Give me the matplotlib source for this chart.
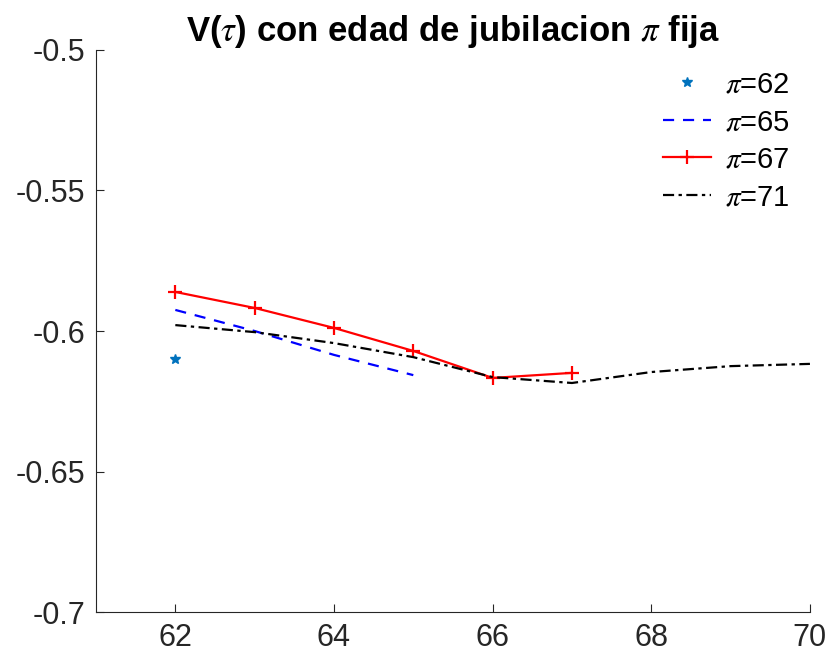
import matplotlib
matplotlib.use("Agg")
import matplotlib.pyplot as plt

# values
x62 = [62]
v62 = [-0.6100]

x65 = [62, 63, 64, 65]
v65 = [-0.5925, -0.6000, -0.6085, -0.6157]

x67 = [62, 63, 64, 65, 66, 67]
v67 = [-0.5861, -0.5918, -0.5989, -0.6071, -0.6167, -0.6149]

x71 = [62, 63, 64, 65, 66, 67, 68, 69, 70]
v71 = [-0.5979, -0.6004, -0.6043, -0.6093, -0.6164, -0.6185, -0.6146, -0.6125, -0.6117]

labels = [r"$\pi$=62", r"$\pi$=65", r"$\pi$=67", r"$\pi$=71"]
xticks = [62, 64, 66, 68, 70]
yticks = [-0.7, -0.65, -0.6, -0.55, -0.5]

plt.rcParams["font.family"] = ["Liberation Sans", "DejaVu Sans"]
plt.rcParams["mathtext.fontset"] = "stix"

fig = plt.figure(figsize=(8.29, 6.63), dpi=100)
ax = fig.add_axes([0.1158, 0.0769, 0.8612, 0.8477])

ax.plot(x62, v62, linestyle="none", marker="*", color="#0072BD", markersize=7, label=labels[0])
ax.plot(x65, v65, linestyle=(0, (5, 4)), color="blue", lw=1.6, label=labels[1])
ax.plot(x67, v67, "-", marker="+", color="red", lw=1.6, markersize=10, mew=1.6, label=labels[2])
ax.plot(x71, v71, linestyle=(0, (5, 2, 1.5, 2)), color="black", lw=1.6, label=labels[3])

ax.set_xlim(61, 70)
ax.set_ylim(-0.7, -0.5)
ax.set_xticks(xticks)
ax.set_yticks(yticks)
ax.set_yticklabels(["-0.7", "-0.65", "-0.6", "-0.55", "-0.5"])

for s in ["top", "right"]:
    ax.spines[s].set_visible(False)
for s in ["left", "bottom"]:
    ax.spines[s].set_color("#262626")
    ax.spines[s].set_linewidth(0.8)
ax.tick_params(direction="in", length=6, width=0.8, color="#262626",
               labelsize=22, labelcolor="#262626", pad=8)

ax.set_title(r"V($\tau$) con edad de jubilacion $\pi$ fija", fontsize=25,
             fontweight="bold", pad=6)

ax.legend(loc="upper right", frameon=False, fontsize=21, handlelength=1.65,
          labelspacing=0.33, borderaxespad=0.3, handletextpad=0.45,
          bbox_to_anchor=(1.0, 1.0))

fig.savefig("out.png", dpi=100)
